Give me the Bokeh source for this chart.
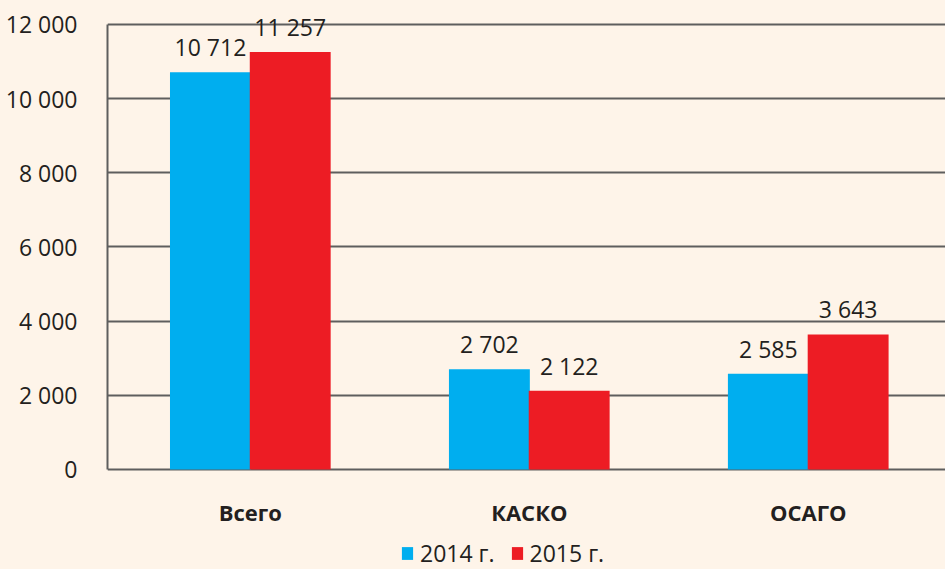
from bokeh.plotting import figure
from bokeh.models import Range1d, FixedTicker, Legend, LegendItem, ColumnDataSource
from bokeh.embed import file_html
from bokeh.resources import INLINE
from bokeh.core.properties import value

categories = ["Всего", "КАСКО", "ОСАГО"]
series_names = ["2014 г.", "2015 г."]
values_2014 = [10712, 2702, 2585]
values_2015 = [11257, 2122, 3643]
y_ticks = [0, 2000, 4000, 6000, 8000, 10000, 12000]
y_tick_labels = ["0", "2 000", "4 000", "6 000", "8 000", "10 000", "12 000"]

BG = "#FEF4E9"
BLUE = "#00AEEF"
RED = "#ED1C24"
TXT = "#231F20"
LINE = "#5E5E5E"
FONT = "Open Sans"

def fmt(v):
    return f"{v:,}".replace(",", " ")

centers = [i + 0.5 for i in range(len(categories))]
off = 0.143
bw = 0.29

src14 = ColumnDataSource(dict(x=[c - off for c in centers], top=values_2014,
                              lab=[fmt(v) for v in values_2014]))
src15 = ColumnDataSource(dict(x=[c + off for c in centers], top=values_2015,
                              lab=[fmt(v) for v in values_2015]))
srccat = ColumnDataSource(dict(x=centers, y=[0] * len(centers), lab=categories))

p = figure(width=945, height=569, output_backend="svg", toolbar_location=None,
           x_range=Range1d(-0.012, 2.992), y_range=Range1d(-2697, 12647),
           min_border_left=107, min_border_right=0, min_border_top=0,
           min_border_bottom=0)
p.background_fill_color = BG
p.border_fill_color = BG
p.outline_line_color = None

r14 = p.vbar(x="x", top="top", width=bw, bottom=0, source=src14,
             fill_color=BLUE, line_color=None)
r15 = p.vbar(x="x", top="top", width=bw, bottom=0, source=src15,
             fill_color=RED, line_color=None)

for src in (src14, src15):
    p.text(x="x", y="top", text="lab", source=src, text_align="center",
           text_baseline="bottom", y_offset=-9, text_color=TXT,
           text_font=value(FONT), text_font_size="23px")

# category labels below the zero line
p.text(x="x", y="y", text="lab", source=srccat, text_align="center",
       text_baseline="middle", y_offset=43, text_color=TXT,
       text_font=value(FONT), text_font_style="bold", text_font_size="22px")

# grid
p.xgrid.grid_line_color = None
p.ygrid.ticker = FixedTicker(ticks=y_ticks)
p.ygrid.grid_line_color = LINE
p.ygrid.grid_line_width = 2

# y axis
p.yaxis.ticker = FixedTicker(ticks=y_ticks)
p.yaxis.bounds = (0, 12000)
p.yaxis.major_label_overrides = {t: l for t, l in zip(y_ticks, y_tick_labels)}
p.yaxis.major_tick_line_color = None
p.yaxis.minor_tick_line_color = None
p.yaxis.axis_line_color = LINE
p.yaxis.axis_line_width = 2
p.yaxis.major_label_standoff = 24
p.yaxis.major_label_text_font = FONT
p.yaxis.major_label_text_font_size = "23px"
p.yaxis.major_label_text_color = TXT

p.xaxis.visible = False

legend = Legend(items=[LegendItem(label=series_names[0], renderers=[r14]),
                       LegendItem(label=series_names[1], renderers=[r15])],
                orientation="horizontal", location=(293, 0))
legend.background_fill_alpha = 0
legend.border_line_color = None
legend.label_text_font = FONT
legend.label_text_font_size = "23px"
legend.label_text_color = TXT
legend.glyph_width = 14
legend.glyph_height = 16
legend.label_standoff = 6
legend.spacing = 15
legend.padding = 0
legend.margin = 0
p.add_layout(legend, "center")

html = file_html(p, INLINE)
html = html.replace("<head>", "<head><style>body{background:%s;}</style>" % BG, 1)
open("out.html", "w").write(html)
